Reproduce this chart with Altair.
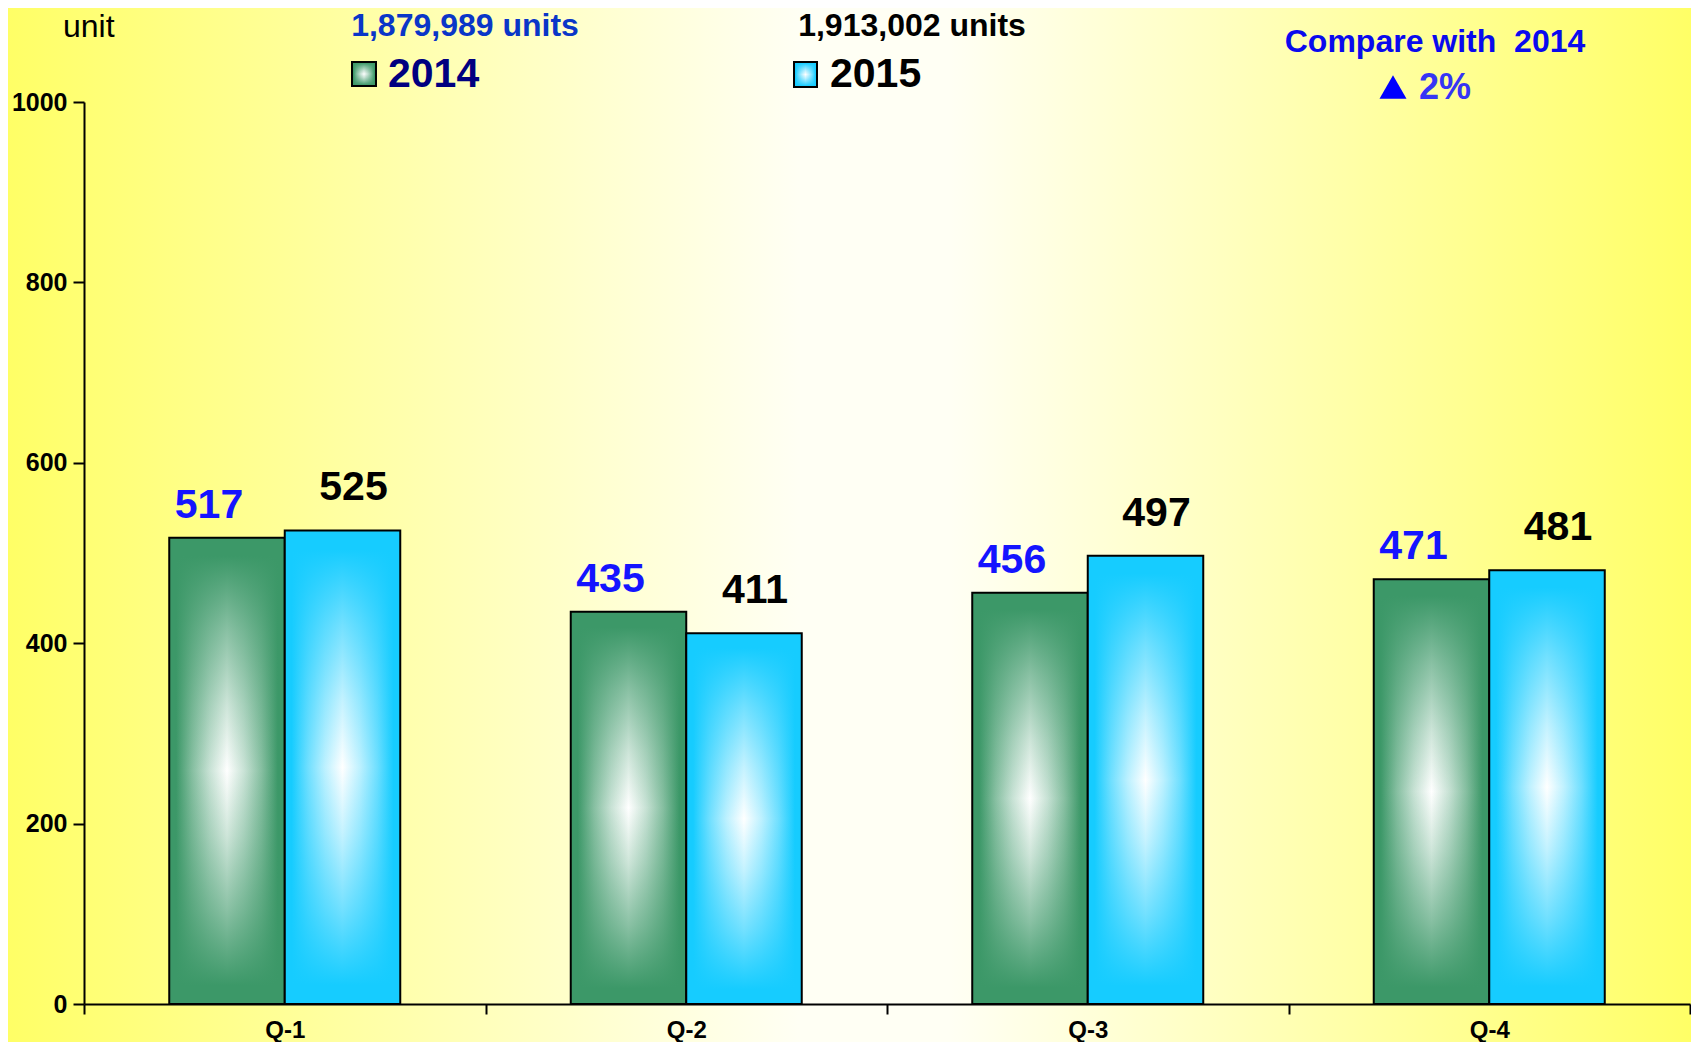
import altair as alt
import pandas as pd

# ---------------- data ----------------
quarters = ["Q-1", "Q-2", "Q-3", "Q-4"]
years = ["2014", "2015"]
values_2014 = [517, 435, 456, 471]
values_2015 = [525, 411, 497, 481]
total_2014 = "1,879,989 units"
total_2015 = "1,913,002 units"
y_ticks = [0, 200, 400, 600, 800, 1000]
unit_text = "unit"
compare_text = "Compare with\u00a0 2014"
change_text = "2%"

rows = []
for q, a, b in zip(quarters, values_2014, values_2015):
    rows.append({"quarter": q, "year": "2014", "value": a})
    rows.append({"quarter": q, "year": "2015", "value": b})
df = pd.DataFrame(rows)

# ---------------- styling ----------------
FONT = "Liberation Sans"
W, H = 1606, 902
PAD = {"left": 76, "top": 94, "right": 1, "bottom": 38}
GREEN = "#3C9868"
BLUE = "#16CCFF"


def hexrgb(c):
    return int(c[1:3], 16), int(c[3:5], 16), int(c[5:7], 16)


def mix(c, f):
    r, g, b = hexrgb(c)
    return "#%02X%02X%02X" % tuple(round(v * f + 255 * (1 - f)) for v in (r, g, b))


def rgba(c, a):
    r, g, b = hexrgb(c)
    return f"rgba({r},{g},{b},{a})"


# colour fraction profile from an edge (offset 0) to the centre (offset 0.5)
H_PROFILE = [(0.0, 1.0), (0.06, 1.0), (0.2, 0.62), (0.35, 0.28), (0.5, 0.0)]
V_PROFILE = [(0.0, 1.0), (0.04, 1.0), (0.2, 0.6), (0.36, 0.25), (0.5, 0.0)]


def sym(profile):
    return list(profile) + [(1 - o, f) for o, f in reversed(profile[:-1])]


def hgrad(c):
    return alt.LinearGradient(
        gradient="linear", x1=0, x2=1, y1=0, y2=0,
        stops=[alt.GradientStop(color=mix(c, f), offset=o) for o, f in sym(H_PROFILE)],
    )


def vgrad(c):
    return alt.LinearGradient(
        gradient="linear", x1=0, x2=0, y1=0, y2=1,
        stops=[alt.GradientStop(color=rgba(c, f), offset=o) for o, f in sym(V_PROFILE)],
    )


bg_grad = alt.LinearGradient(
    gradient="linear", x1=0, x2=1, y1=0, y2=0,
    stops=[
        alt.GradientStop(color="#FFFF66", offset=0),
        alt.GradientStop(color="#FFFFF4", offset=0.47),
        alt.GradientStop(color="#FFFFF4", offset=0.56),
        alt.GradientStop(color="#FFFF66", offset=1),
    ],
)

one = alt.Data(values=[{"k": 1}])

background = alt.Chart(one).mark_rect(fill=bg_grad).encode(
    x=alt.value(-PAD["left"]), x2=alt.value(W + PAD["right"]),
    y=alt.value(-PAD["top"]), y2=alt.value(H + PAD["bottom"]),
)

x_enc = alt.X(
    "quarter:N", sort=quarters,
    scale=alt.Scale(paddingInner=0, paddingOuter=0),
    axis=alt.Axis(
        title=None, labelAngle=0, tickBand="extent", tickSize=10,
        labelPadding=4, labelFontSize=24, labelFont=FONT,
        labelFontWeight="bold", labelColor="black", domainColor="black",
        domainWidth=2, tickColor="black", tickWidth=2, grid=False, zindex=1,
    ),
)
xo_enc = alt.XOffset(
    "year:N", scale=alt.Scale(domain=years, paddingInner=0, paddingOuter=0.738)
)
y_enc = alt.Y(
    "value:Q", scale=alt.Scale(domain=[0, 1000], nice=False),
    axis=alt.Axis(
        title=None, values=y_ticks, format="d", tickSize=11, labelPadding=6,
        labelFontSize=25, labelFont=FONT, labelFontWeight="bold",
        labelColor="black", domainColor="black", domainWidth=2,
        tickColor="black", tickWidth=2, grid=False, zindex=1,
    ),
)

base = alt.Chart(df).encode(x=x_enc, xOffset=xo_enc, y=y_enc)

layers = [background]
for yr, col in (("2014", GREEN), ("2015", BLUE)):
    sub = base.transform_filter(alt.datum.year == yr)
    layers.append(sub.mark_bar(fill=hgrad(col)))
    layers.append(sub.mark_bar(fill=vgrad(col), stroke="black", strokeWidth=2))

layers.append(
    base.transform_filter(alt.datum.year == "2014").mark_text(
        dx=-18, dy=-20, baseline="alphabetic", fontSize=41, fontWeight="bold",
        font=FONT, color="#1414FF",
    ).encode(text="value:Q")
)
layers.append(
    base.transform_filter(alt.datum.year == "2015").mark_text(
        dx=11, dy=-30, baseline="alphabetic", fontSize=41, fontWeight="bold",
        font=FONT, color="black",
    ).encode(text="value:Q")
)


def label(text, x, y, size, color, weight="bold", align="left"):
    return alt.Chart(one).mark_text(
        text=text, align=align, baseline="alphabetic", fontSize=size,
        fontWeight=weight, font=FONT, color=color,
    ).encode(x=alt.value(x), y=alt.value(y))


def symbol(x0, x1, y0, y1, col):
    return [
        alt.Chart(one).mark_rect(fill=hgrad(col)).encode(
            x=alt.value(x0), x2=alt.value(x1), y=alt.value(y0), y2=alt.value(y1)),
        alt.Chart(one).mark_rect(fill=vgrad(col), stroke="black", strokeWidth=2).encode(
            x=alt.value(x0), x2=alt.value(x1), y=alt.value(y0), y2=alt.value(y1)),
    ]


layers.append(label(unit_text, -21, -65, 32, "black", weight="normal"))
layers.append(label(total_2014, 381, -66, 32, "#0A36C8", align="center"))
layers.append(label(total_2015, 828, -66, 32, "black", align="center"))
layers += symbol(268, 292, -40, -16, GREEN)
layers.append(label(years[0], 304, -15, 41, "#000080"))
layers += symbol(710, 733, -40, -15, BLUE)
layers.append(label(years[1], 746, -15, 41, "black"))
layers.append(label(compare_text, 1351, -50, 32, "#0A0AEE", align="center"))
layers.append(
    alt.Chart(one).mark_point(shape="triangle-up", size=729, filled=True,
                              opacity=1, color="#0000FF").encode(
        x=alt.value(1309), y=alt.value(-15))
)
layers.append(label(change_text, 1335, -3, 36, "#3535F5"))

chart = alt.layer(*layers).properties(
    width=W, height=H, padding=PAD,
    autosize=alt.AutoSizeParams(type="none"),
).configure_view(strokeWidth=0)

chart.save("out.html", embed_options={"renderer": "svg", "actions": False})
